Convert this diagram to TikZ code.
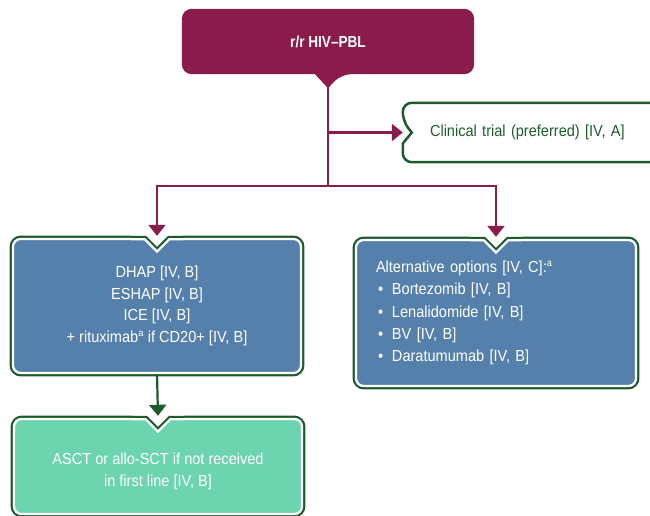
\documentclass[tikz,border=0pt]{standalone}
\usepackage{fontspec}
\setmainfont{Liberation Sans}[FakeStretch=0.91, BoldFeatures={FakeStretch=0.85}]
\usetikzlibrary{positioning, arrows.meta, calc}

\definecolor{plum}{RGB}{138,28,76}
\definecolor{steel}{RGB}{85,128,171}
\definecolor{mint}{RGB}{108,212,174}
\definecolor{pine}{RGB}{30,91,44}

\pgfdeclarelayer{back}
\pgfsetlayers{back,main}

% outlines built from the node anchors (y grows downwards)
\newcommand{\pointpath}[1]{($(#1.south)+(-13,0)$) [rounded corners=10pt] -- (#1.south west) -- (#1.north west) -- (#1.north east) -- (#1.south east) -- ($(#1.south)+(13,0)$) [sharp corners] -- ($(#1.south)+(0,14)$) -- cycle}
\newcommand{\chevronpath}[1]{($(#1.west)+(0,11)$) [rounded corners=9pt] -- (#1.south west) -- (#1.south east) -- (#1.north east) -- (#1.north west) -- ($(#1.west)+(0,-11)$) [sharp corners] -- ($(#1.west)+(9,0)$) -- cycle}
\newcommand{\greenframe}[2]{%
  \draw[pine, line width=4.5pt, rounded corners=9pt] (#1.north west) rectangle (#1.south east);
  \begin{scope}
    \clip[rounded corners=9pt] (#1.north west) rectangle (#1.south east);
    \fill[#2] (#1.north west) rectangle (#1.south east);
    \draw[white, line width=4.5pt, rounded corners=9pt] (#1.north west) rectangle (#1.south east);
  \end{scope}}
\newcommand{\supa}{\textsuperscript{\fontsize{10}{10}\selectfont a}}

\tikzset{
  box/.style={inner sep=0pt, text=white, font=\fontsize{16}{21.5}\selectfont},
  plumarrow/.style={draw=plum, line width=2.2pt, -{Triangle[width=17pt,length=11pt]}},
  pinearrow/.style={draw=pine, line width=2.2pt, -{Triangle[width=17pt,length=11pt]}}
}

\begin{document}
\begin{tikzpicture}[x=1pt, y=-1pt]
  \useasboundingbox (0,0) rectangle (650,516);

  \node [box, font=\fontsize{16}{21}\selectfont\bfseries, minimum width=292pt, minimum height=65pt] (hiv) at (328,41.5) {r/r HIV–PBL};
  \node [box, text=pine, minimum width=300pt, minimum height=59pt, text width=246pt, inner xsep=27pt, align=left] (trial) at (553,132.5) {Clinical trial (preferred) [IV, A]};
  \node [box, minimum width=290pt, minimum height=136pt, align=center] (salvage) at (157,306)
    {DHAP [IV, B]\\ESHAP [IV, B]\\ICE [IV, B]\\+ rituximab\supa{} if CD20+ [IV, B]};
  \node [box, font=\fontsize{16}{22.2}\selectfont, minimum width=282pt, minimum height=148pt, text width=240pt, align=left] (alt) at (496,313)
    {Alternative options [IV, C]:\supa\\
     \hspace*{2pt}\makebox[14pt][l]{\textbullet}Bortezomib [IV, B]\\
     \hspace*{2pt}\makebox[14pt][l]{\textbullet}Lenalidomide [IV, B]\\
     \hspace*{2pt}\makebox[14pt][l]{\textbullet}BV [IV, B]\\
     \hspace*{2pt}\makebox[14pt][l]{\textbullet}Daratumumab [IV, B]};
  \node [box, minimum width=290pt, minimum height=97pt, align=center] (sct) at (158,466.5)
    {\rule{0pt}{21.5pt}ASCT or allo-SCT if not received\\in first line [IV, B]};
  \coordinate (fork) at (328,186);

  \begin{pgfonlayer}{back}
    \fill[plum] \pointpath{hiv};
    \draw[pine, line width=2.5pt, fill=white] \chevronpath{trial};
    \greenframe{salvage}{steel}
    \greenframe{alt}{steel}
    \greenframe{sct}{mint}
  \end{pgfonlayer}

  % notches where the arrows come in
  \foreach \nx/\ny/\col in {157/238/steel, 496/239/steel, 158/418/mint} {
    \begin{scope}
      \clip (\nx-26,\ny) -- (\nx-12,\ny) -- (\nx,\ny+12) -- (\nx+12,\ny) -- (\nx+26,\ny) -- (\nx+26,\ny-8) -- (\nx-26,\ny-8) -- cycle;
      \fill[white] (\nx-26,\ny-8) rectangle (\nx+26,\ny+14);
      \draw[pine, line width=4.5pt] (\nx-26,\ny) -- (\nx-12,\ny) -- (\nx,\ny+12) -- (\nx+12,\ny) -- (\nx+26,\ny);
    \end{scope}
    \begin{scope}
      \clip (\nx-26,\ny) -- (\nx-12,\ny) -- (\nx,\ny+12) -- (\nx+12,\ny) -- (\nx+26,\ny) -- (\nx+26,\ny+20) -- (\nx-26,\ny+20) -- cycle;
      \fill[\col] (\nx-26,\ny) rectangle (\nx+26,\ny+20);
      \draw[white, line width=4.5pt] (\nx-26,\ny) -- (\nx-12,\ny) -- (\nx,\ny+12) -- (\nx+12,\ny) -- (\nx+26,\ny);
    \end{scope}
  }

  \draw [draw=plum, line width=2.2pt] (hiv.south) -- (fork);
  \draw [plumarrow] (hiv.south |- trial.west) -- (trial.west);
  \draw [plumarrow] (fork) -| ($(salvage.north)+(0,-2)$);
  \draw [plumarrow] (fork) -| ($(alt.north)+(0,-2)$);
  \draw [pinearrow] (salvage.south) -- ($(sct.north)+(0,-2)$);
\end{tikzpicture}
\end{document}
